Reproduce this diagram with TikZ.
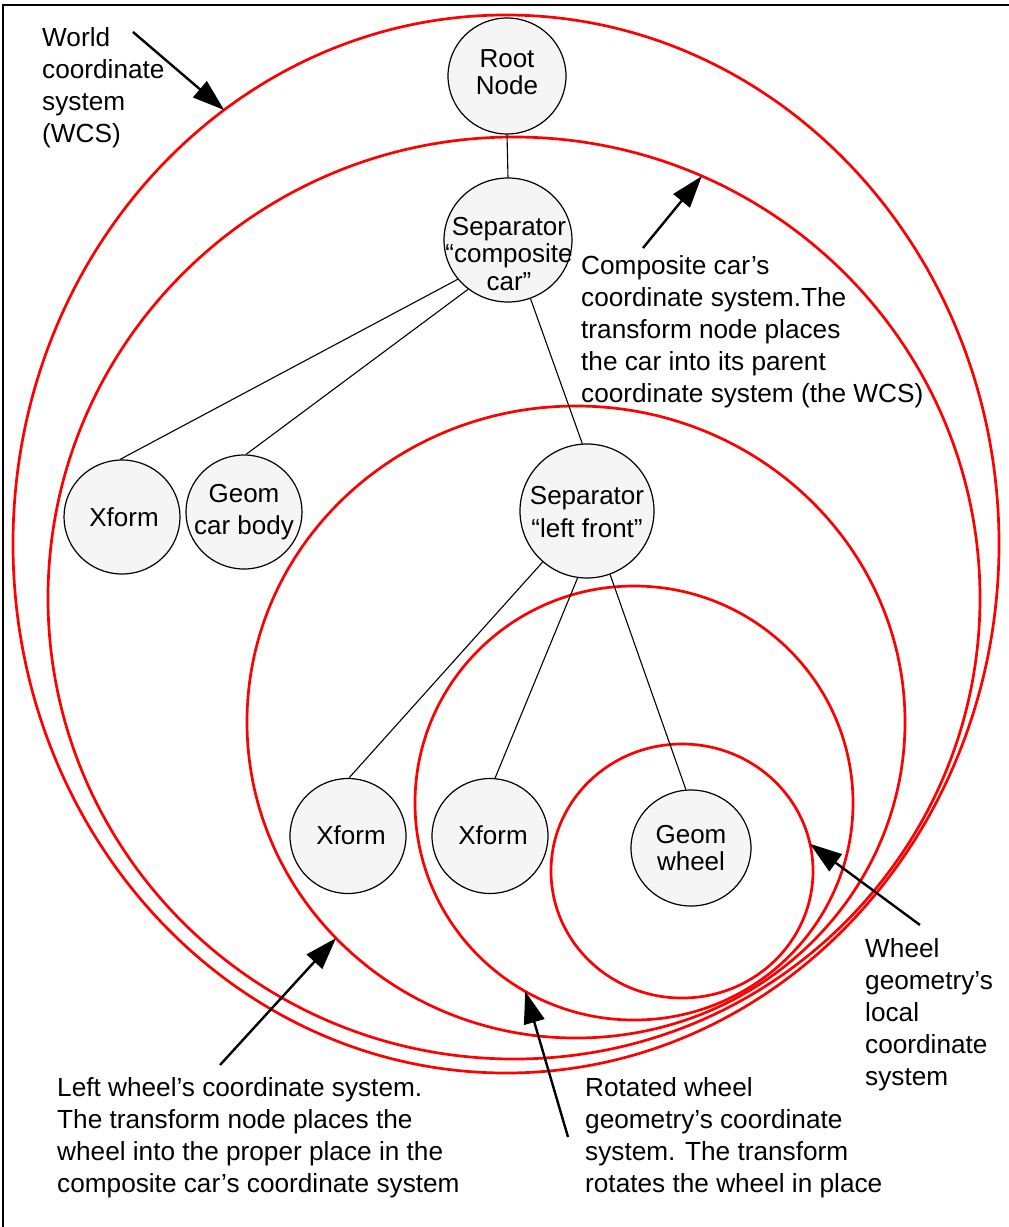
\documentclass[tikz,border=0pt]{standalone}
\usepackage{fontspec}
\setmainfont{Liberation Sans}
\usetikzlibrary{shapes.geometric,arrows.meta}
\definecolor{ring}{RGB}{255,0,0}
\definecolor{nodefill}{RGB}{245,245,245}
\begin{document}
\begin{tikzpicture}[x=1pt,y=-1pt,
  frame/.style={line width=2.6pt},
  coord/.style={ellipse, draw=ring, line width=2.7pt, inner sep=0pt, outer sep=0pt},
  tnode/.style={ellipse, draw=black, line width=1.2pt, fill=nodefill, inner sep=0pt},
  ntext/.style={align=center, inner sep=0pt, font=\fontsize{26}{27.5}\selectfont},
  widetext/.style={ntext, font=\fontsize{26}{32.5}\selectfont},
  note/.style={align=left, inner sep=0pt, anchor=north west, font=\fontsize{26.2}{32}\selectfont},
  link/.style={line width=1.1pt},
  pointer/.style={line width=2.4pt, -{Triangle[length=32pt,width=21pt]}}]
\useasboundingbox (0,0) rectangle (1009,1227);
\fill[white] (0,0) rectangle (1009,1227);
% frame (top and left edges)
\draw[frame] (3,1227) -- (3,5) -- (1009,5);

% nested coordinate systems
\node[coord, minimum width=986, minimum height=1058] (wcs) at (506,544) {};
\node[coord, minimum width=932, minimum height=922] (carcs) at (514,598) {};
\node[coord, minimum width=658, minimum height=632] (leftcs) at (576,722) {};
\node[coord, minimum width=438, minimum height=434] (rotcs) at (634,803) {};
\node[coord, minimum width=262, minimum height=254] (wheelcs) at (682,871) {};

% scene graph nodes
\node[tnode, minimum width=118, minimum height=116] (root) at (507,76) {};
\node[ntext] (rootT) at (507,72) {Root\\Node};
\node[tnode, minimum width=128, minimum height=124] (sepcar) at (508,240) {};
\node[ntext] (sepcarT) at (509,254) {Separator\\“composite\\car”};
\node[tnode, minimum width=116, minimum height=114] (xfcar) at (122,517) {};
\node[ntext] (xfcarT) at (124,517) {Xform};
\node[tnode, minimum width=116, minimum height=114] (body) at (244,512) {};
\node[widetext] (bodyT) at (244,512) {Geom\\car body};
\node[tnode, minimum width=134, minimum height=134] (sepleft) at (587,511) {};
\node[widetext] (sepleftT) at (587,512) {Separator\\“left front”};
\node[tnode, minimum width=116, minimum height=115] (xfplace) at (348,836) {};
\node[ntext] (xfplaceT) at (351,835) {Xform};
\node[tnode, minimum width=116, minimum height=115] (xfrot) at (490,836) {};
\node[ntext] (xfrotT) at (493,835) {Xform};
\node[tnode, minimum width=120, minimum height=116] (wheel) at (691,848) {};
\node[ntext] (wheelT) at (691,848) {Geom\\wheel};

% tree edges
\draw[link] (root.south) -- (sepcar.north);
\draw[link] (sepcar.218) -- (xfcar.92);
\draw[link] (sepcar.231) -- (body.88);
\draw[link] (sepcar.291) -- (sepleft.94);
\draw[link] (sepleft.229) -- (xfplace.89);
\draw[link] (sepleft.262) -- (xfrot.85);
\draw[link] (sepleft.290) -- (wheel.95);

% captions
\node[note] (wcsT) at (42,27) {World\\coordinate\\system\\(WCS)};
\node[note] (carT) at (581,255) {Composite car’s\\coordinate system.The\\transform node places\\the car into its parent\\coordinate system (the WCS)};
\node[note] (leftT) at (57,1077) {Left wheel’s coordinate system.\\The transform node places the\\wheel into the proper place in the\\composite car’s coordinate system};
\node[note] (rotT) at (585,1077) {Rotated wheel\\geometry’s coordinate\\system. The transform\\rotates the wheel in place};
\node[note] (wheelCapT) at (865,938) {Wheel\\geometry’s\\local\\coordinate\\system};

% pointers from captions to the systems they describe
\coordinate (wcsFrom) at (133,32);
\coordinate (carFrom) at (643,248);
\coordinate (leftFrom) at (220,1065);
\coordinate (rotFrom) at (568,1137);
\coordinate (wheelFrom) at (920,925);
\draw[pointer] (wcsFrom) -- (wcs.123);
\draw[pointer] (carFrom) -- (carcs.66);
\draw[pointer] (leftFrom) -- (leftcs.222);
\draw[pointer] (rotFrom) -- (rotcs.240);
\draw[pointer] (wheelFrom) -- (wheelcs.12);
\end{tikzpicture}
\end{document}
